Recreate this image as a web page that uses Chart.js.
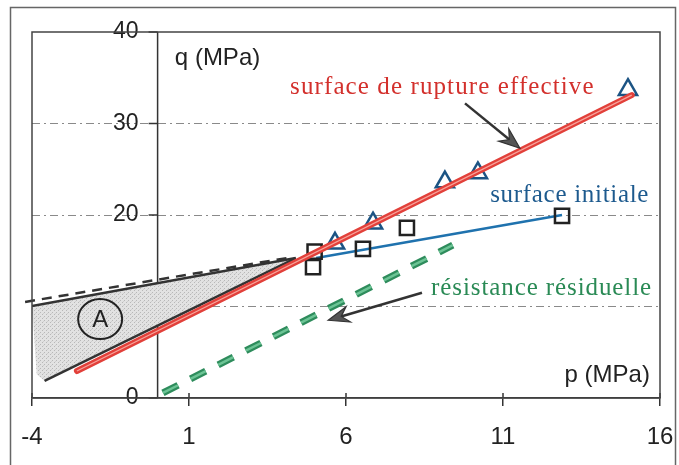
<!DOCTYPE html>
<html>
<head>
<meta charset="utf-8">
<script src="https://cdn.jsdelivr.net/npm/chart.js@4.4.1/dist/chart.umd.min.js"></script>
<style>
  html, body { margin: 0; padding: 0; background: #fff; }
</style>
</head>
<body>
<canvas id="chart" width="679" height="465"></canvas>
<script>
// axes
const xTicks = [-4, 1, 6, 11, 16];
const yTicks = [0, 10, 20, 30, 40];

// essais (p, q en MPa)
const triangleP = [5.65, 6.86, 9.15, 10.2, 14.98];
const triangleQ = [16.9, 19.1, 23.6, 24.6, 33.7];
const squareP = [4.95, 5.0, 6.54, 7.94, 12.88];
const squareQ = [14.3, 16.0, 16.3, 18.6, 19.9];

// droites
const ruptureP = [-2.57, 15.1];
const ruptureQ = [2.95, 33.1];
const initialeP = [5.05, 12.88];
const initialeQ = [15.3, 20.0];
const residuelleP = [0.17, 9.4];
const residuelleQ = [0.55, 16.7];
const pointilleP = [-4.22, 4.3];
const pointilleQ = [10.5, 15.4];

// zone A
const zoneHautP = [-4, 4.4];
const zoneHautQ = [10.05, 15.3];
const zoneBasP = [-3.6, 4.4];
const zoneBasQ = [1.86, 15.3];
const zoneP = [-4, 4.4, -3.6, -3.85, -4];
const zoneQ = [10.05, 15.3, 1.86, 2.6, 10.05];

const sans = '"Liberation Sans", Arial, sans-serif';
const serif = '"Liberation Serif", "Times New Roman", serif';

function pts(ps, qs) {
    return ps.map(function(p, i) { return {x: p, y: qs[i]}; });
}

// petit motif pointille pour la zone A
function motif() {
    const c = document.createElement('canvas');
    c.width = 4; c.height = 4;
    const g = c.getContext('2d');
    g.fillStyle = '#e2e2e2';
    g.fillRect(0, 0, 4, 4);
    g.fillStyle = '#b8b8b8';
    g.fillRect(0, 0, 1, 1);
    g.fillRect(2, 2, 1, 1);
    g.fillStyle = '#cfcfcf';
    g.fillRect(3, 1, 1, 1);
    return g.createPattern(c, 'repeat');
}

// textes et fleches (coordonnees en MPa)
const textes = [
    {text: 'q (MPa)', p: 0.55, q: 36.4, font: '24px ' + sans, color: '#222', align: 'left', spacing: '0px'},
    {text: 'p (MPa)', p: 15.68, q: 1.75, font: '24px ' + sans, color: '#222', align: 'right', spacing: '0px'},
    {text: 'surface de rupture effective', p: 4.22, q: 33.2, font: '25px ' + serif, color: '#d3302c', align: 'left', spacing: '1.1px'},
    {text: 'surface initiale', p: 10.59, q: 21.4, font: '25px ' + serif, color: '#1d5a8e', align: 'left', spacing: '0.7px'},
    {text: 'résistance résiduelle', p: 8.71, q: 11.26, font: '25px ' + serif, color: '#2a8a55', align: 'left', spacing: '0.9px'}
];
const fleches = [
    {p1: 9.79, q1: 32.2, p2: 11.54, q2: 27.3},
    {p1: 8.42, q1: 11.5, p2: 5.43, q2: 8.5}
];
const cercleA = {p: -1.83, q: 8.63};

function fleche(ctx, x1, y1, x2, y2) {
    const ang = Math.atan2(y2 - y1, x2 - x1);
    const len = 21, wid = 8;
    ctx.save();
    ctx.strokeStyle = '#333';
    ctx.lineWidth = 2.5;
    ctx.beginPath();
    ctx.moveTo(x1, y1);
    ctx.lineTo(x2 - Math.cos(ang) * len * 0.6, y2 - Math.sin(ang) * len * 0.6);
    ctx.stroke();
    ctx.translate(x2, y2);
    ctx.rotate(ang);
    ctx.beginPath();
    ctx.moveTo(0, 0);
    ctx.lineTo(-len, -wid);
    ctx.lineTo(-len * 0.65, 0);
    ctx.lineTo(-len, wid);
    ctx.closePath();
    ctx.fillStyle = '#555';
    ctx.fill();
    ctx.lineWidth = 1.2;
    ctx.stroke();
    ctx.restore();
}

const decor = {
    id: 'decor',
    beforeDatasetsDraw(chart) {
        const ctx = chart.ctx, xs = chart.scales.x, ys = chart.scales.y;
        const x0 = xs.getPixelForValue(0);
        ctx.save();
        ctx.strokeStyle = '#333';
        ctx.lineWidth = 1.5;
        ctx.beginPath();
        ctx.moveTo(x0, chart.chartArea.top);
        ctx.lineTo(x0, chart.chartArea.bottom);
        ctx.stroke();
        // petites marques qui traversent l'axe des p
        xTicks.forEach(function(v) {
            const x = xs.getPixelForValue(v);
            ctx.beginPath();
            ctx.moveTo(x, chart.chartArea.bottom - 5);
            ctx.lineTo(x, chart.chartArea.bottom);
            ctx.stroke();
        });
        ctx.fillStyle = '#222';
        ctx.font = '23px ' + sans;
        ctx.textAlign = 'right';
        ctx.textBaseline = 'middle';
        yTicks.forEach(function(v) {
            const y = ys.getPixelForValue(v);
            ctx.beginPath();
            ctx.moveTo(x0 - 9, y);
            ctx.lineTo(x0, y);
            ctx.stroke();
            ctx.fillText(String(v), x0 - 19, y);
        });
        ctx.restore();
    },
    afterDraw(chart) {
        const ctx = chart.ctx, xs = chart.scales.x, ys = chart.scales.y;
        const a = chart.chartArea;
        ctx.save();
        ctx.strokeStyle = '#444';
        ctx.lineWidth = 1.5;
        ctx.strokeRect(a.left, a.top, a.right - a.left, a.bottom - a.top);
        ctx.strokeStyle = '#666';
        ctx.strokeRect(10.5, 7.5, 665, 470);

        textes.forEach(function(t) {
            ctx.font = t.font;
            ctx.fillStyle = t.color;
            ctx.textAlign = t.align;
            ctx.textBaseline = 'alphabetic';
            ctx.letterSpacing = t.spacing;
            ctx.fillText(t.text, xs.getPixelForValue(t.p), ys.getPixelForValue(t.q));
        });
        ctx.letterSpacing = '0px';

        fleches.forEach(function(f) {
            fleche(ctx, xs.getPixelForValue(f.p1), ys.getPixelForValue(f.q1),
                xs.getPixelForValue(f.p2), ys.getPixelForValue(f.q2));
        });

        const cx = xs.getPixelForValue(cercleA.p), cy = ys.getPixelForValue(cercleA.q);
        ctx.beginPath();
        ctx.ellipse(cx, cy, 22, 20, 0, 0, Math.PI * 2);
        ctx.strokeStyle = '#222';
        ctx.lineWidth = 2;
        ctx.stroke();
        ctx.fillStyle = '#222';
        ctx.font = '24px ' + sans;
        ctx.textAlign = 'center';
        ctx.textBaseline = 'middle';
        ctx.fillText('A', cx, cy + 1);
        ctx.restore();
    }
};

const ligne = {type: 'line', pointRadius: 0, fill: false, tension: 0};

const data = {
    datasets: [
        Object.assign({}, ligne, {data: pts(zoneP, zoneQ), borderWidth: 0, borderColor: 'rgba(0,0,0,0)',
            backgroundColor: motif(), fill: 'shape', order: 12}),
        Object.assign({}, ligne, {data: pts(zoneHautP, zoneHautQ), borderColor: '#333', borderWidth: 2.5, order: 11}),
        Object.assign({}, ligne, {data: pts(zoneBasP, zoneBasQ), borderColor: '#333', borderWidth: 2.5, order: 11}),
        Object.assign({}, ligne, {data: pts(pointilleP, pointilleQ), borderColor: '#333', borderWidth: 2.5,
            borderDash: [10, 7], clip: false, order: 10}),
        Object.assign({}, ligne, {data: pts(residuelleP, residuelleQ), borderColor: '#2e8c5c', borderWidth: 7,
            borderDash: [17, 14], borderCapStyle: 'butt', order: 9}),
        Object.assign({}, ligne, {data: pts(residuelleP, residuelleQ), borderColor: '#6cc495', borderWidth: 2.5,
            borderDash: [17, 14], borderCapStyle: 'butt', order: 8}),
        Object.assign({}, ligne, {data: pts(initialeP, initialeQ), borderColor: '#1f72ae', borderWidth: 2.5, order: 7}),
        {type: 'scatter', data: pts(squareP, squareQ), pointStyle: 'rect', pointRadius: 10,
            pointBorderColor: '#222', pointBackgroundColor: 'rgba(255,255,255,0)', pointBorderWidth: 2.5, order: 6},
        {type: 'scatter', data: pts(triangleP, triangleQ), pointStyle: 'triangle', pointRadius: 10.5,
            pointBorderColor: '#1c5484', pointBackgroundColor: 'rgba(255,255,255,0)', pointBorderWidth: 2.5, order: 5},
        Object.assign({}, ligne, {data: pts(ruptureP, ruptureQ), borderColor: '#e2403a', borderWidth: 6,
            borderCapStyle: 'round', order: 4}),
        Object.assign({}, ligne, {data: pts(ruptureP, ruptureQ), borderColor: '#f7a39c', borderWidth: 1.2, order: 3})
    ]
};

const config = {
    type: 'scatter',
    data,
    options: {
        responsive: false,
        devicePixelRatio: 1,
        animation: false,
        layout: {padding: {left: 32, right: 19, top: 32, bottom: 0}},
        plugins: {legend: {display: false}, tooltip: {enabled: false}},
        scales: {
            x: {
                type: 'linear', min: -4, max: 16,
                afterBuildTicks: function(s) { s.ticks = xTicks.map(function(v) { return {value: v}; }); },
                afterFit: function(s) { s.paddingLeft = 0; s.paddingRight = 0; s.height = 67; },
                grid: {drawOnChartArea: false, drawTicks: true, tickLength: 8, color: '#333', lineWidth: 1.5},
                border: {display: true, color: '#333', width: 1.5},
                ticks: {padding: 19, color: '#222', font: {size: 24, family: sans, lineHeight: 1}, autoSkip: false, maxRotation: 0}
            },
            y: {
                type: 'linear', min: 0, max: 40,
                afterBuildTicks: function(s) { s.ticks = yTicks.map(function(v) { return {value: v}; }); },
                ticks: {display: false},
                grid: {
                    drawTicks: false, lineWidth: 1,
                    color: function(c) { return (c.tick && c.tick.value > 0 && c.tick.value < 40) ? '#8a8a8a' : 'rgba(0,0,0,0)'; }
                },
                border: {display: false, dash: [8, 4, 2, 4]}
            }
        }
    },
    plugins: [decor]
};

const monGraphique = new Chart(document.getElementById('chart'), config);
</script>
</body>
</html>
